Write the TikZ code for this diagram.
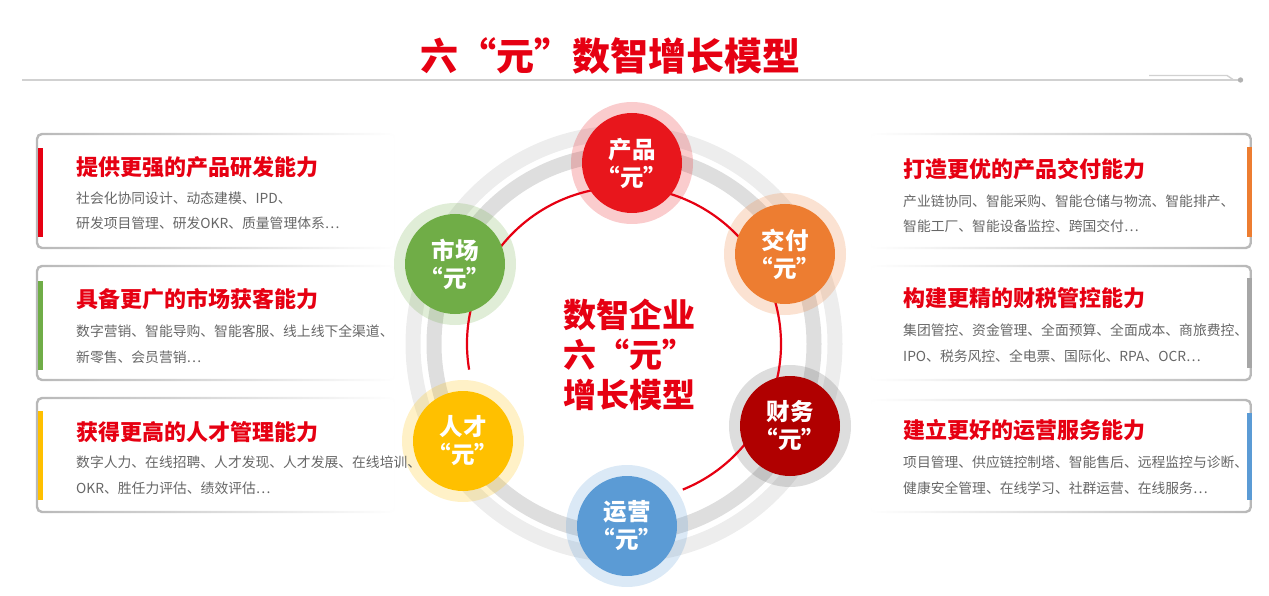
\documentclass[tikz,border=0pt]{standalone}
\usepackage{fontspec}
\setmainfont{Noto Sans CJK SC}
\usepackage{xcolor}
\usetikzlibrary{positioning,backgrounds,fadings}

\definecolor{cnred}{HTML}{E60012}
\definecolor{prodred}{HTML}{E8161C}
\definecolor{delivorange}{HTML}{ED7D31}
\definecolor{finred}{HTML}{B00000}
\definecolor{opsblue}{HTML}{5B9BD5}
\definecolor{talyellow}{HTML}{FFC000}
\definecolor{mktgreen}{HTML}{70AD47}
\definecolor{notegray}{HTML}{666666}
\definecolor{bargray}{HTML}{A6A6A6}

\tikzfading[name=fadeE, left color=transparent!0, middle color=transparent!10, right color=transparent!100]
\tikzfading[name=fadeW, left color=transparent!100, middle color=transparent!10, right color=transparent!0]

\begin{document}
\begin{tikzpicture}[
x=1pt, y=-1pt,
ball/.style={circle, minimum size=100pt, inner sep=0pt, text=white, align=center, font=\fontsize{23.5}{28}\selectfont\bfseries},
halo/.style={opacity=.22},
capframe/.style={draw=black!28, line width=2.4pt, rounded corners=5pt},
captitle/.style={anchor=west, inner sep=0pt, text=cnred, font=\fontsize{22}{26}\selectfont\bfseries},
capnote/.style={anchor=west, inner sep=0pt, align=left, text=notegray, font=\fontsize{13.8}{25.5}\selectfont},
ring/.style={line width=15pt}
]
\useasboundingbox (0,0) rectangle (1269,596);
\coordinate (hub) at (624,344);

% heading and rule
\node[text=cnred, font=\fontsize{38}{40}\selectfont\bfseries] (heading) at (610,56) {六“元”数智增长模型};
\draw[black!18, line width=2pt] (22,80) -- (1240,80);
\draw[black!18, line width=1.4pt] (1149,75.5) -- (1227,75.5) -- (1233,79.5);
\fill[black!30] (1240.5,80) circle[radius=2.7];

% left capability boxes
\draw[capframe, path fading=fadeE] (37,134) rectangle (395,248);
\draw[capframe, path fading=fadeE] (37,266) rectangle (395,380);
\draw[capframe, path fading=fadeE] (37,398) rectangle (395,512);
\fill[cnred] (38,148) rectangle (43,237);
\fill[mktgreen] (38,281) rectangle (43,370);
\fill[talyellow] (38,411) rectangle (43,500);

\node[captitle] (prodT) at (76,167) {提供更强的产品研发能力};
\node[capnote] (prodN) at (76,211) {社会化协同设计、动态建模、IPD、\\研发项目管理、研发OKR、质量管理体系…};
\node[captitle] (mktT) at (76,299) {具备更广的市场获客能力};
\node[capnote] (mktN) at (76,344) {数字营销、智能导购、智能客服、线上线下全渠道、\\新零售、会员营销…};
\node[captitle] (talT) at (76,432) {获得更高的人才管理能力};
\node[capnote] (talN) at (76,475) {数字人力、在线招聘、人才发现、人才发展、在线培训、\\OKR、胜任力评估、绩效评估…};

% right capability boxes
\draw[capframe, path fading=fadeW] (870,134) rectangle (1251,248);
\draw[capframe, path fading=fadeW] (870,266) rectangle (1251,380);
\draw[capframe, path fading=fadeW] (870,400) rectangle (1251,512);
\fill[delivorange] (1247,147) rectangle (1252,237);
\fill[bargray] (1247,278) rectangle (1252,368);
\fill[opsblue] (1247,413) rectangle (1252,500);

\node[captitle] (delT) at (903,169) {打造更优的产品交付能力};
\node[capnote] (delN) at (903,214) {产业链协同、智能采购、智能仓储与物流、智能排产、\\智能工厂、智能设备监控、跨国交付…};
\node[captitle] (finT) at (903,298) {构建更精的财税管控能力};
\node[capnote] (finN) at (903,343) {集团管控、资金管理、全面预算、全面成本、商旅费控、\\IPO、税务风控、全电票、国际化、RPA、OCR…};
\node[captitle] (opsT) at (903,430) {建立更好的运营服务能力};
\node[capnote] (opsN) at (903,475) {项目管理、供应链控制塔、智能售后、远程监控与诊断、\\健康安全管理、在线学习、社群运营、在线服务…};

% six yuan
\node[ball, fill=prodred] (chanpin) at (632,163) {产品\\“元”};
\node[ball, fill=delivorange] (jiaofu) at (785,254) {交付\\“元”};
\node[ball, fill=finred] (caiwu) at (790,426) {财务\\“元”};
\node[ball, fill=opsblue] (yunying) at (627,526) {运营\\“元”};
\node[ball, fill=talyellow] (rencai) at (463,441) {人才\\“元”};
\node[ball, fill=mktgreen] (shichang) at (455,264) {市场\\“元”};

\node[anchor=west, inner sep=0pt, align=left, text=cnred, font=\fontsize{33}{40}\selectfont\bfseries] (core) at (563,355) {数智企业\\六“元”\\增长模型};

\begin{scope}[on background layer]
\draw[ring, black!7] (hub) circle[radius=211];
\draw[ring, black!13] (hub) circle[radius=190];
\fill[halo, prodred] (chanpin) circle[radius=61];
\fill[halo, delivorange] (jiaofu) circle[radius=61];
\fill[halo, black!60] (caiwu) circle[radius=61];
\fill[halo, opsblue] (yunying) circle[radius=61];
\fill[halo, talyellow] (rencai) circle[radius=61];
\fill[halo, mktgreen] (shichang) circle[radius=61];
\draw[cnred, line width=2.2pt] (hub) ++(-189.4:157) arc[start angle=-189.4, end angle=68, radius=157];
\end{scope}

\end{tikzpicture}
\end{document}
